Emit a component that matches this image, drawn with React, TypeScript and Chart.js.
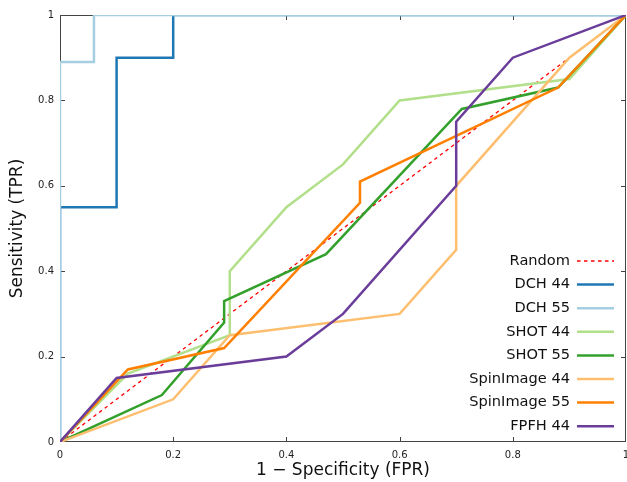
import React, { useEffect, useRef } from "react";
import { Chart, registerables } from "chart.js";

Chart.register(...registerables);

// ---- data ----
const seriesNames = ["Random", "DCH 44", "DCH 55", "SHOT 44", "SHOT 55", "SpinImage 44", "SpinImage 55", "FPFH 44"];

const randomFPR = [0, 1];
const randomTPR = [0, 1];

const dch44FPR = [0, 0, 0.1, 0.1, 0.2, 0.2, 1];
const dch44TPR = [0, 0.55, 0.55, 0.9, 0.9, 1, 1];

const dch55FPR = [0, 0, 0.06, 0.06, 1];
const dch55TPR = [0, 0.89, 0.89, 1, 1];

const shot44FPR = [0, 0.12, 0.3, 0.3, 0.4, 0.5, 0.6, 0.9, 1];
const shot44TPR = [0, 0.16, 0.25, 0.4, 0.55, 0.65, 0.8, 0.85, 1];

const shot55FPR = [0, 0.18, 0.29, 0.29, 0.47, 0.71, 0.88, 1];
const shot55TPR = [0, 0.11, 0.28, 0.33, 0.44, 0.78, 0.83, 1];

const spin44FPR = [0, 0.2, 0.3, 0.6, 0.7, 0.7, 0.9, 1];
const spin44TPR = [0, 0.1, 0.25, 0.3, 0.45, 0.6, 0.9, 1];

const spin55FPR = [0, 0.12, 0.29, 0.53, 0.53, 0.88, 1];
const spin55TPR = [0, 0.17, 0.22, 0.56, 0.61, 0.83, 1];

const fpfh44FPR = [0, 0.1, 0.4, 0.5, 0.7, 0.7, 0.8, 1];
const fpfh44TPR = [0, 0.15, 0.2, 0.3, 0.6, 0.75, 0.9, 1];

const xTickValues = [0, 0.2, 0.4, 0.6, 0.8, 1];
const xTickLabels = ["0", "0.2", "0.4", "0.6", "0.8", "1"];
const yTickValues = [0, 0.2, 0.4, 0.6, 0.8, 1];
const yTickLabels = ["0", "0.2", "0.4", "0.6", "0.8", "1"];

const seriesColors = ["#ff0000", "#1f78b4", "#a6cee3", "#b2df8a", "#33a02c", "#fdbf6f", "#ff7f00", "#6a3d9a"];

const FONT = "'DejaVu Sans', sans-serif";

function pts(xs: number[], ys: number[]) {
  return xs.map((x, i) => ({ x, y: ys[i] }));
}

const frameTicksPlugin = {
  id: "frameTicks",
  beforeDatasetsDraw(chart: any) {
    const { ctx, chartArea: a, scales } = chart;
    ctx.save();
    ctx.strokeStyle = "#444";
    ctx.lineWidth = 1;
    ctx.strokeRect(a.left + 0.5, a.top + 0.5, a.right - a.left - 1, a.bottom - a.top - 1);
    const L = 5;
    ctx.beginPath();
    xTickValues.forEach((v) => {
      if (v === 0 || v === 1) return;
      const px = Math.round(scales.x.getPixelForValue(v)) + 0.5;
      ctx.moveTo(px, a.bottom);
      ctx.lineTo(px, a.bottom - L);
      ctx.moveTo(px, a.top);
      ctx.lineTo(px, a.top + L);
    });
    yTickValues.forEach((v) => {
      if (v === 0 || v === 1) return;
      const py = Math.round(scales.y.getPixelForValue(v)) + 0.5;
      ctx.moveTo(a.left, py);
      ctx.lineTo(a.left + L, py);
      ctx.moveTo(a.right, py);
      ctx.lineTo(a.right - L, py);
    });
    ctx.stroke();
    ctx.restore();
  },
};

const legendPlugin = {
  id: "customLegend",
  afterDatasetsDraw(chart: any) {
    const { ctx, chartArea: a } = chart;
    ctx.save();
    ctx.font = `14.6px ${FONT}`;
    ctx.textAlign = "right";
    ctx.textBaseline = "middle";
    const textRight = a.right - 56;
    const lineStart = a.right - 49;
    const lineEnd = a.right - 12;
    const top = a.bottom - 181;
    const pitch = 23.6;
    chart.data.datasets.forEach((ds: any, i: number) => {
      const y = top + i * pitch;
      ctx.fillStyle = "#111";
      ctx.fillText(ds.label, textRight, y);
      ctx.beginPath();
      ctx.strokeStyle = ds.borderColor;
      ctx.lineWidth = ds.borderWidth;
      ctx.setLineDash(ds.borderDash || []);
      ctx.moveTo(lineStart, y);
      ctx.lineTo(lineEnd, y);
      ctx.stroke();
      ctx.setLineDash([]);
    });
    ctx.restore();
  },
};

export default function App() {
  const ref = useRef<HTMLCanvasElement>(null);

  useEffect(() => {
    document.body.style.margin = "0";
    const seriesData = [
      pts(randomFPR, randomTPR),
      pts(dch44FPR, dch44TPR),
      pts(dch55FPR, dch55TPR),
      pts(shot44FPR, shot44TPR),
      pts(shot55FPR, shot55TPR),
      pts(spin44FPR, spin44TPR),
      pts(spin55FPR, spin55TPR),
      pts(fpfh44FPR, fpfh44TPR),
    ];
    const datasets = seriesData.map((d, i) => ({
      label: seriesNames[i],
      data: d,
      borderColor: seriesColors[i],
      backgroundColor: seriesColors[i],
      borderWidth: i === 0 ? 1.3 : 2.5,
      borderDash: i === 0 ? [3.5, 3.5] : undefined,
      pointRadius: 0,
      tension: 0,
      fill: false,
      order: seriesData.length - i,
    }));
    const chart = new Chart(ref.current!, {
      type: "line",
      data: { datasets },
      plugins: [frameTicksPlugin, legendPlugin],
      options: {
        animation: false,
        responsive: false,
        devicePixelRatio: 1,
        layout: { padding: { top: 15, right: 1, left: 0, bottom: 0 } },
        plugins: { legend: { display: false }, tooltip: { enabled: false } },
        scales: {
          x: {
            type: "linear",
            min: 0,
            max: 1,
            grid: { display: false, drawTicks: false },
            border: { display: false },
            afterBuildTicks: (s: any) => {
              s.ticks = xTickValues.map((v) => ({ value: v }));
            },
            afterFit: (s: any) => {
              s.height = 40;
              s.paddingLeft = 0;
              s.paddingRight = 0;
            },
            ticks: {
              font: { family: FONT, size: 10 },
              color: "#222",
              padding: 7,
              maxRotation: 0,
              autoSkip: false,
              callback: (v: any) => {
                const i = xTickValues.findIndex((t) => Math.abs(t - v) < 1e-9);
                return i >= 0 ? xTickLabels[i] : "";
              },
            },
            title: {
              display: true,
              text: "1 − Specificity (FPR)",
              font: { family: FONT, size: 17 },
              color: "#111",
              padding: { top: 0, bottom: 1 },
            },
          },
          y: {
            type: "linear",
            min: 0,
            max: 1,
            grid: { display: false, drawTicks: false },
            border: { display: false },
            afterBuildTicks: (s: any) => {
              s.ticks = yTickValues.map((v) => ({ value: v }));
            },
            afterFit: (s: any) => {
              s.width = 60;
              s.paddingTop = 0;
              s.paddingBottom = 0;
            },
            ticks: {
              font: { family: FONT, size: 10 },
              color: "#222",
              padding: 6,
              autoSkip: false,
              callback: (v: any) => {
                const i = yTickValues.findIndex((t) => Math.abs(t - v) < 1e-9);
                return i >= 0 ? yTickLabels[i] : "";
              },
            },
            title: {
              display: true,
              text: "Sensitivity (TPR)",
              font: { family: FONT, size: 17 },
              color: "#111",
              padding: { top: 7, bottom: 0 },
            },
          },
        },
      },
    } as any);
    return () => chart.destroy();
  }, []);

  return (
    <div style={{ position: "absolute", left: 0, top: 0, width: 627, height: 482 }}>
      <canvas ref={ref} width={627} height={482} />
    </div>
  );
}
